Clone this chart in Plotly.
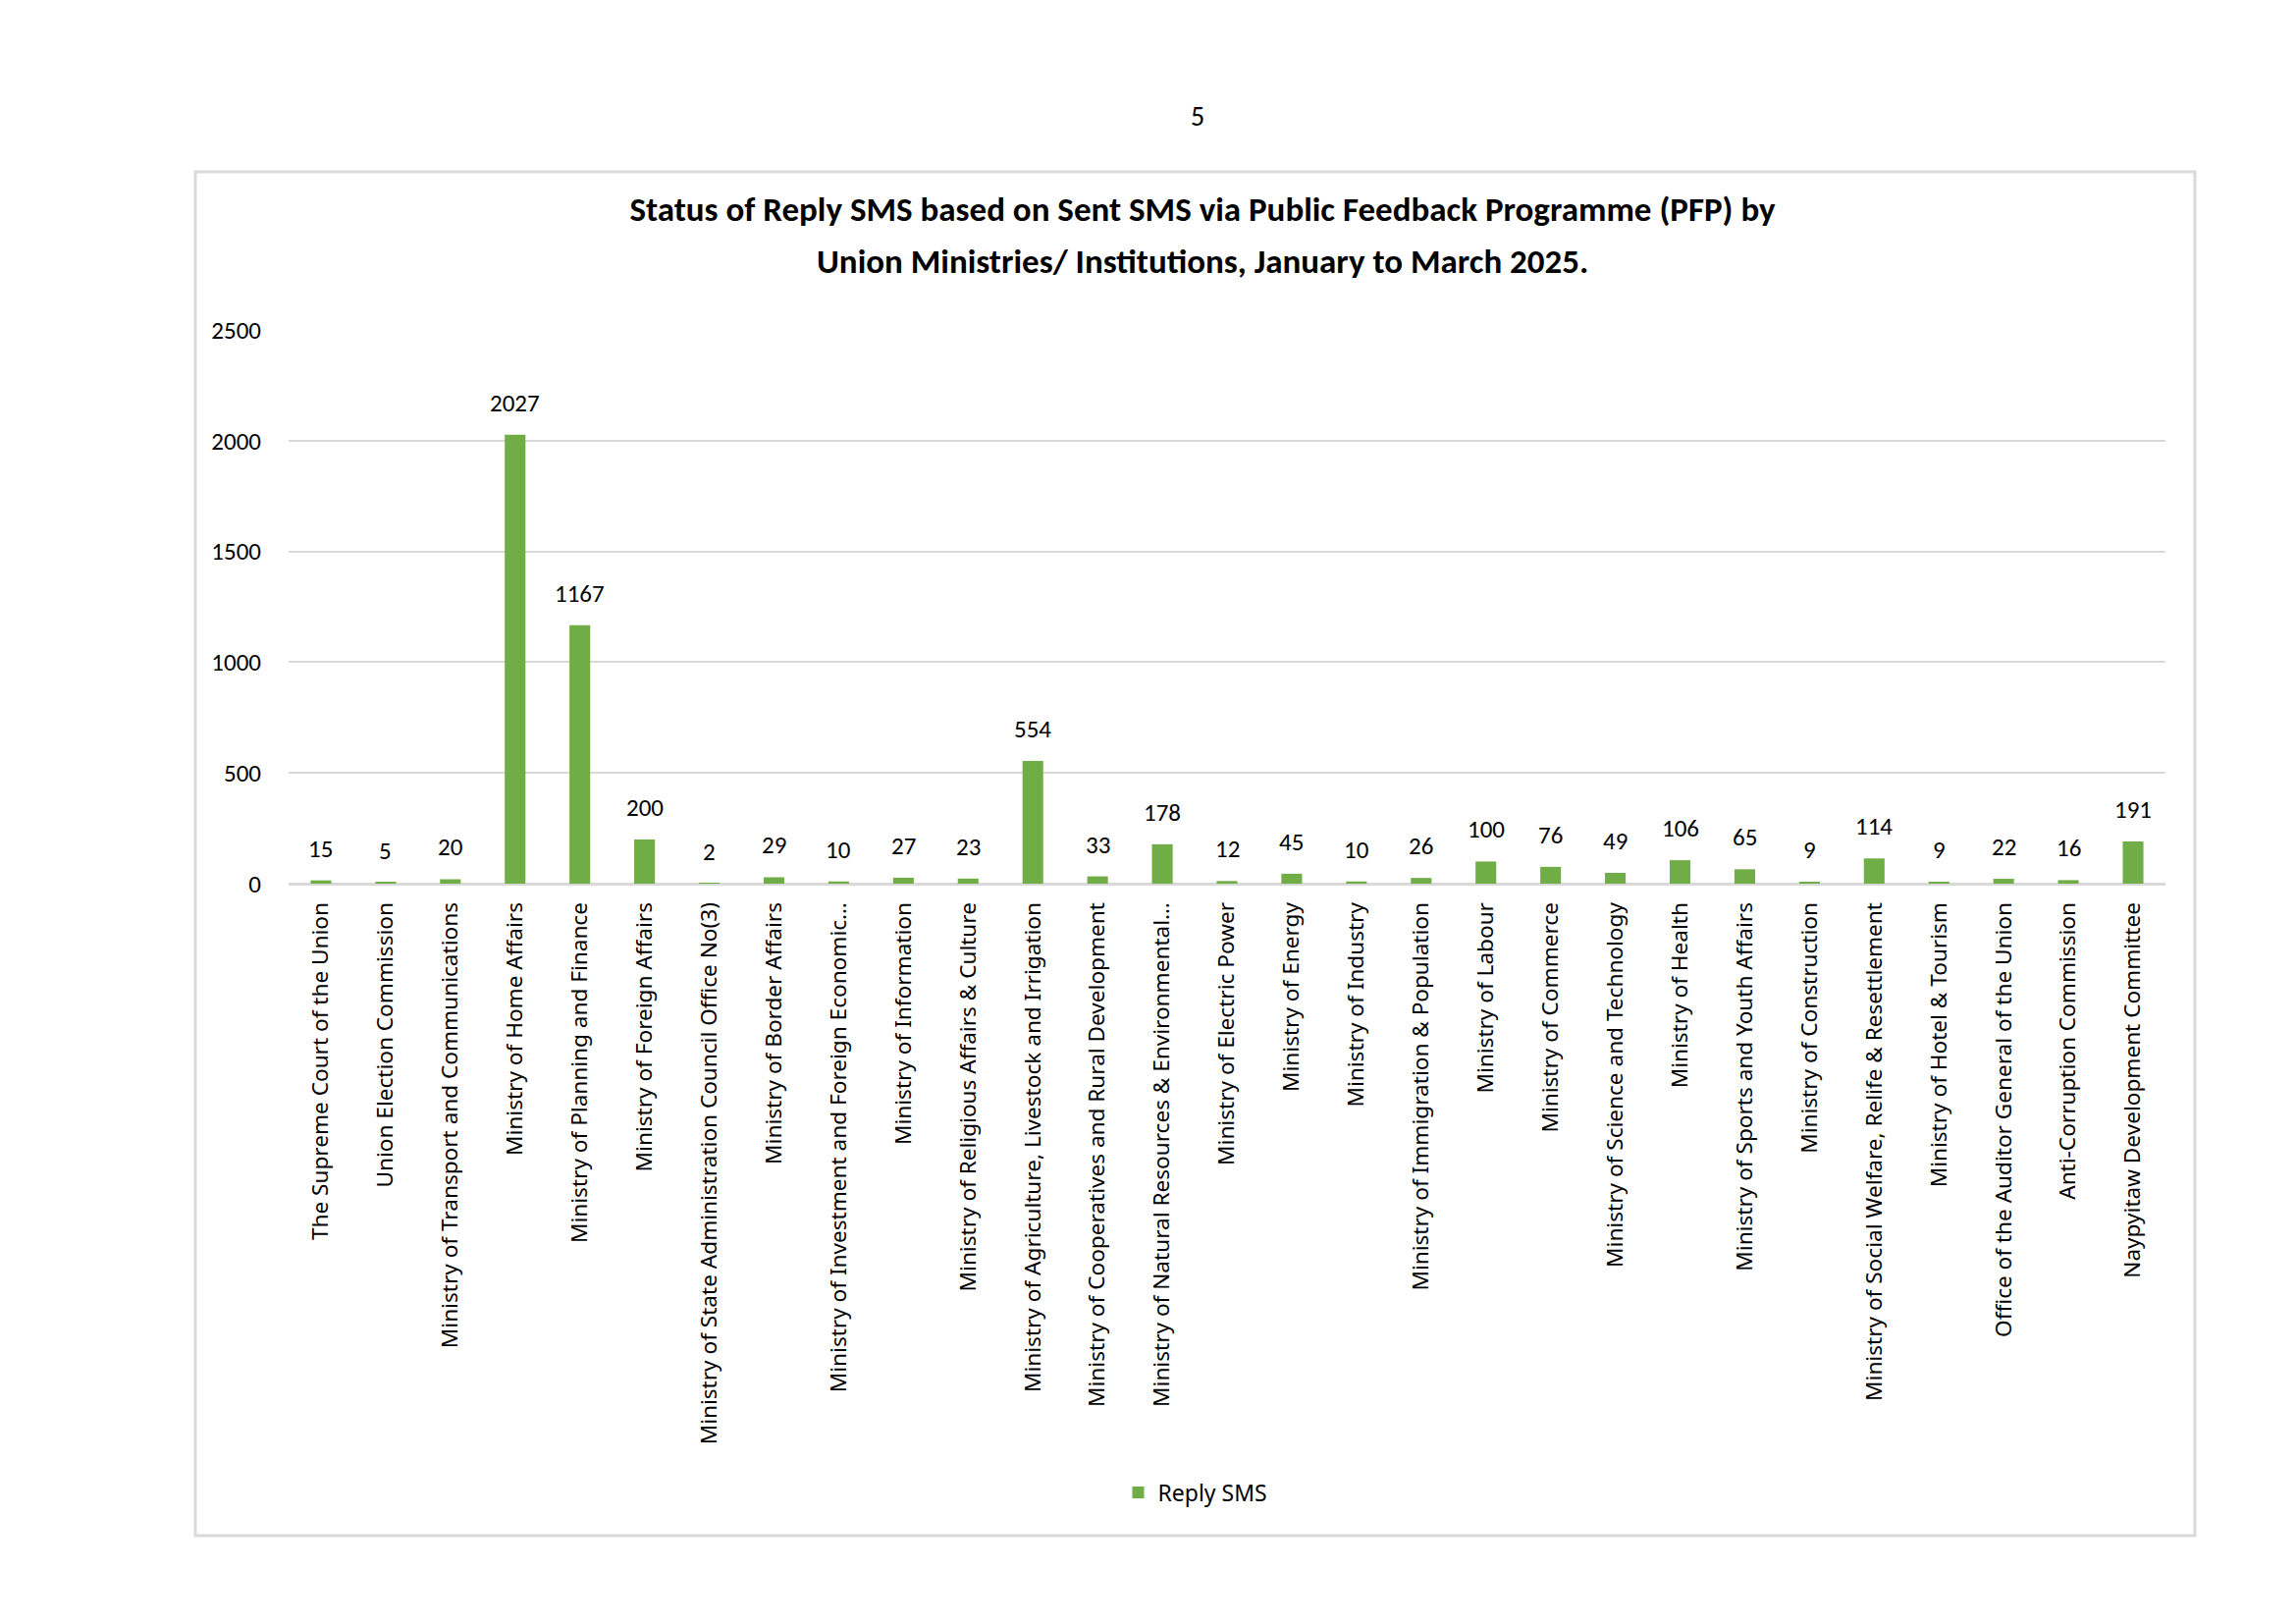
import plotly.graph_objects as go

categories = [
    "The Supreme Court of the Union",
    "Union Election Commission",
    "Ministry of Transport and Communications",
    "Ministry of Home Affairs",
    "Ministry of Planning and Finance",
    "Ministry of Foreign Affairs",
    "Ministry of State Administration Council Office No(3)",
    "Ministry of Border Affairs",
    "Ministry of Investment and Foreign Economic…",
    "Ministry of Information",
    "Ministry of Religious Affairs & Culture",
    "Ministry of Agriculture, Livestock and Irrigation",
    "Ministry of Cooperatives and Rural Development",
    "Ministry of Natural Resources & Environmental…",
    "Ministry of Electric Power",
    "Ministry of Energy",
    "Ministry of Industry",
    "Ministry of Immigration & Population",
    "Ministry of Labour",
    "Ministry of Commerce",
    "Ministry of Science and Technology",
    "Ministry of Health",
    "Ministry of Sports and Youth Affairs",
    "Ministry of Construction",
    "Ministry of Social Welfare, Relife & Resettlement",
    "Ministry of Hotel & Tourism",
    "Office of the Auditor General of the Union",
    "Anti-Corruption Commission",
    "Naypyitaw Development Committee",
]

reply_sms = [15, 5, 20, 2027, 1167, 200, 2, 29, 10, 27, 23, 554, 33, 178, 12,
             45, 10, 26, 100, 76, 49, 106, 65, 9, 114, 9, 22, 16, 191]

series_name = "Reply SMS"
title_line1 = "Status of Reply SMS based on Sent SMS via Public Feedback Programme (PFP) by"
title_line2 = "Union Ministries/ Institutions, January to March 2025."
page_number = "5"
y_ticks = [0, 500, 1000, 1500, 2000, 2500]

GREEN = "#70AD47"
GRID = "#d9d9d9"
NUM_FONT = "Carlito, Lato, Noto Sans, sans-serif"
CAT_FONT = "Noto Sans, Open Sans, sans-serif"

# page has an 8px body margin; figure sized/margined so the plot area lands
# at x 294..2206, y 336..900 of the window
W, H = 2331, 1646
L, R, T, B = 286, 133, 328, 754
PH = H - T - B  # 564

def py(win_y):
    # window y pixel -> paper y
    return (900 - win_y) / PH

def px(win_x):
    return (win_x - 294) / (W - L - R)

fig = go.Figure()
fig.add_trace(go.Bar(
    x=categories,
    y=reply_sms,
    name=series_name,
    marker=dict(color=GREEN, line=dict(width=0)),
    showlegend=True,
))

# data labels above bars
for c, v in zip(categories, reply_sms):
    fig.add_annotation(
        x=c, y=v, xref="x", yref="y", text=str(v), showarrow=False,
        yanchor="bottom", yshift=15,
        font=dict(family=NUM_FONT, size=25, color="#000000"),
    )

# page number
fig.add_annotation(
    x=px(1220), y=py(119), xref="paper", yref="paper", text=page_number,
    showarrow=False, xanchor="center", yanchor="middle",
    font=dict(family=NUM_FONT, size=28, color="#000000"),
)

# second title line
fig.add_annotation(
    x=px(1225), y=py(266), xref="paper", yref="paper", text=title_line2,
    showarrow=False, xanchor="center", yanchor="middle",
    font=dict(family=NUM_FONT, size=35, color="#000000", weight="bold"),
)

# chart border
fig.add_shape(
    type="rect", xref="paper", yref="paper",
    x0=px(199), x1=px(2236), y0=py(1564), y1=py(175),
    line=dict(color=GRID, width=3), fillcolor="rgba(0,0,0,0)", layer="below",
)

fig.update_layout(
    width=W, height=H,
    margin=dict(l=L, r=R, t=T, b=B, autoexpand=False),
    paper_bgcolor="white", plot_bgcolor="white",
    bargap=0.68,
    title=dict(
        text=title_line1, x=px(1225), xref="paper", xanchor="center",
        y=1 - (213 - 8) / H, yref="container", yanchor="middle",
        font=dict(family=NUM_FONT, size=35, color="#000000", weight="bold"),
    ),
    legend=dict(
        orientation="h", x=px(1218), xanchor="center", y=py(1520), yanchor="middle",
        yref="paper", font=dict(family=CAT_FONT, size=23, color="#000000"),
        bgcolor="rgba(0,0,0,0)",
    ),
    xaxis=dict(
        type="category", tickangle=-90, showgrid=False, showline=True,
        linecolor=GRID, linewidth=2, ticks="", ticklabelstandoff=8,
        tickfont=dict(family=CAT_FONT, size=22.6, color="#000000"),
    ),
    yaxis=dict(
        range=[0, 2500], tickvals=y_ticks, showgrid=True, gridcolor=GRID,
        gridwidth=2, zeroline=True, zerolinecolor=GRID, zerolinewidth=2,
        showline=False, ticks="", ticklabelstandoff=27,
        tickfont=dict(family=NUM_FONT, size=25, color="#000000"),
    ),
)

fig.write_html("out.html")
